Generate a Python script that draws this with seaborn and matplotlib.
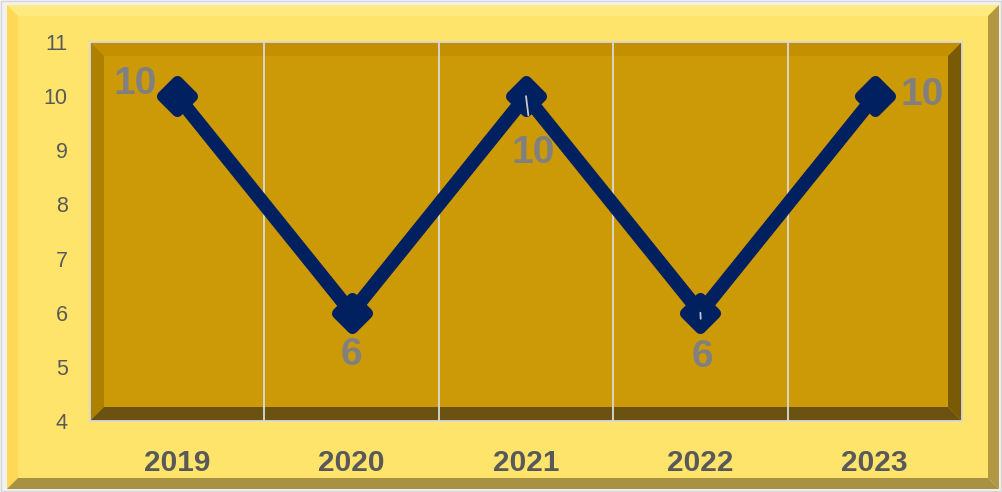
import matplotlib
matplotlib.use("Agg")
import matplotlib.pyplot as plt
import matplotlib.transforms as mtransforms
from matplotlib.patches import Polygon, Rectangle
from matplotlib.markers import MarkerStyle
import seaborn as sns
import pandas as pd

# ---- data ----
years = ["2019", "2020", "2021", "2022", "2023"]
values = [10, 6, 10, 6, 10]
y_ticks = [4, 5, 6, 7, 8, 9, 10, 11]

# label placement per point: (dx px, dy px, ha, va, leader line)
label_place = [
    (-20, 12, "right", "center", False),
    (0, -42, "center", "center", False),
    (7, -57, "center", "center", True),
    (2, -44, "center", "center", True),
    (26, 1, "left", "center", False),
]

W, H = 1002, 492
sns.set_theme(style="white")
plt.rcParams["font.family"] = ["Liberation Sans", "DejaVu Sans"]

fig = plt.figure(figsize=(W / 100, H / 100), dpi=100)
fig.patch.set_facecolor("#F2F2F2")

# pixel coordinates with the origin at the top-left corner
pix = mtransforms.Affine2D().scale(1 / W, -1 / H).translate(0, 1) + fig.transFigure


def bevel(target, x0, y0, x1, y1, w, face, top, left, bottom, right, z):
    target.add_artist(Rectangle((x0, y0), x1 - x0, y1 - y0, transform=pix,
                                facecolor=face, edgecolor="none", zorder=z))
    polys = [
        ([(x0, y0), (x1, y0), (x1 - w, y0 + w), (x0 + w, y0 + w)], top),
        ([(x0, y0), (x0 + w, y0 + w), (x0 + w, y1 - w), (x0, y1)], left),
        ([(x0, y1), (x1, y1), (x1 - w, y1 - w), (x0 + w, y1 - w)], bottom),
        ([(x1, y0), (x1 - w, y0 + w), (x1 - w, y1 - w), (x1, y1)], right),
    ]
    for pts, c in polys:
        target.add_artist(Polygon(pts, closed=True, transform=pix,
                                  facecolor=c, edgecolor="none", zorder=z + 0.01))


# outer golden frame
fig.add_artist(Rectangle((1, 1), W - 2, H - 2, transform=pix, facecolor="none",
                         edgecolor="#D6D6D6", lw=1.0, zorder=-1))
bevel(fig, 7, 5, 999, 489, 11, "#FFE46C", "#FFEA80", "#FFD855", "#A99143", "#B39844", -0.9)

# plot area
ax_l, ax_r, ax_t, ax_b = 90, 962, 42, 421
ax = fig.add_axes([ax_l / W, 1 - ax_b / H, (ax_r - ax_l) / W, (ax_b - ax_t) / H])
ax.set_facecolor("#CC9A06")
bevel(ax, ax_l, ax_t, ax_r, ax_b, 14, "#CC9A06", "#C59000", "#AE8000", "#6C5210", "#7A5B05", 0.1)
for c in ax.get_children():
    if isinstance(c, (Polygon, Rectangle)) and c is not ax.patch:
        c.set_clip_on(False)

df = pd.DataFrame({"year": years, "value": values})
navy = "#002060"
sns.lineplot(data=df, x="year", y="value", ax=ax, color=navy, lw=10,
             marker=MarkerStyle("D", joinstyle="round"), markersize=15,
             markeredgewidth=8, markeredgecolor=navy, markerfacecolor=navy,
             solid_joinstyle="round", solid_capstyle="round", zorder=3)

ax.set_xlim(-0.5, len(years) - 0.5)
ax.set_ylim(min(y_ticks), max(y_ticks))
ax.set_yticks(y_ticks)
ax.set_xticks(range(len(years)))
ax.set_xticklabels(years)
ax.set_xticks([i + 0.5 for i in range(len(years) - 1)], minor=True)
ax.grid(False)
ax.grid(which="minor", axis="x", color="#D9D9D9", lw=1.3, zorder=0.5)
ax.set_axisbelow(True)
ax.set_xlabel("")
ax.set_ylabel("")
ax.tick_params(axis="y", length=0, pad=16, labelsize=15.5, labelcolor="#595959")
ax.tick_params(axis="x", which="both", length=0, pad=20, labelsize=21.5, labelcolor="#595959")
for t in ax.get_xticklabels():
    t.set_fontweight("bold")
for s in ax.spines.values():
    s.set_color("#D9D9D9")
    s.set_linewidth(1.3)
    s.set_zorder(1)

px = 0.72  # points per pixel at 100 dpi
for i, (v, (dx, dy, ha, va, lead)) in enumerate(zip(values, label_place)):
    kw = dict(textcoords="offset points", xytext=(dx * px, dy * px), ha=ha, va=va,
              fontsize=28, fontweight="bold", color="#808080", zorder=6)
    if lead:
        kw["arrowprops"] = dict(arrowstyle="-", color="#C8C8C8", lw=1.3,
                                shrinkA=12, shrinkB=0)
    ax.annotate(f"{v}", xy=(i, v), **kw)

fig.savefig("out.png", dpi=100, facecolor=fig.get_facecolor())
